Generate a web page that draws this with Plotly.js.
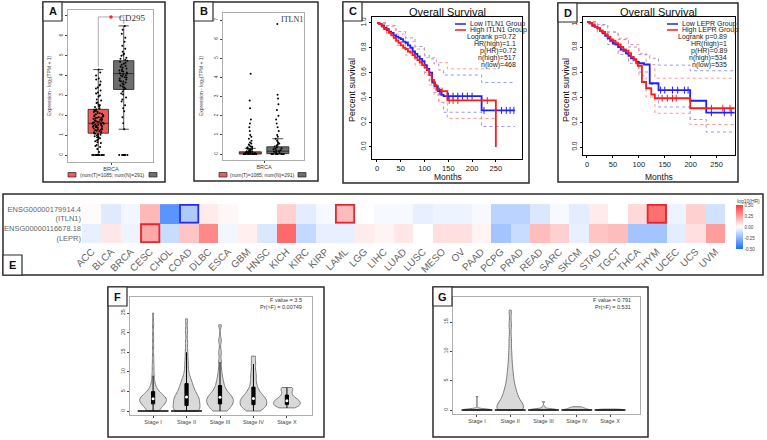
<!DOCTYPE html>
<html><head><meta charset="utf-8">
<script src="https://cdn.plot.ly/plotly-3.0.1.min.js"></script>
<style>html,body{margin:0;padding:0;background:#fff}#chart{width:767px;height:440px}</style>
</head><body><div id="chart"></div>
<script>
// ---------- Panel A / B : expression box plots ----------
const boxA_q1 = [1.1, 3.3], boxA_med = [1.6, 4.1], boxA_q3 = [2.3, 4.75], boxA_lo = [0, 1.3], boxA_hi = [4.3, 6.5];
const ptsA_T = [0,0,0,0,0,0,0,0,0,0,0.15,0.3,0.45,0.6,0.7,0.8,0.9,0.95,1.0,1.05,1.1,1.15,1.2,1.25,1.3,1.35,1.4,1.45,1.5,1.52,1.55,1.6,1.62,1.65,1.7,1.75,1.8,1.85,1.9,1.95,2.0,2.05,2.1,2.15,2.2,2.25,2.3,2.35,2.45,2.55,2.65,2.8,2.95,3.1,3.25,3.4,3.55,3.7,3.85,4.0,4.15,4.3,
  1.28,1.48,1.68,1.88,1.12,1.38,1.58,1.78,0.85,2.02,2.18,0.5,1.02,1.22,1.42,1.63,1.83,2.08,2.28,2.42,2.62,0.75,0.88,1.18,1.33,1.53,1.73,1.93,2.12,0.65,0.4,2.5,2.75,3.0,3.15,3.35,3.5,3.8,0.95,1.07,1.27,1.47,1.67,1.87,1.97,2.23,1.57,1.43];
const ptsA_N = [0,0,0,0,0,0,0,1.3,1.6,1.9,2.2,2.5,2.7,2.9,3.05,3.2,3.3,3.4,3.5,3.6,3.7,3.8,3.9,3.95,4.0,4.05,4.1,4.15,4.2,4.25,4.3,4.4,4.5,4.6,4.7,4.8,4.9,5.0,5.1,5.2,5.35,5.5,5.7,5.9,6.1,6.3,6.5,
  3.55,3.75,4.35,4.55,4.75,3.35,3.65,3.85,4.45,4.65,3.45,4.02,4.12,4.22,3.92,3.72,4.85,5.05,2.8,3.1,2.35];
const sigX = [0, 0, 1, 1], sigY = [4.45, 6.95, 6.95, 6.6];
const boxB_q1 = [0, 0.02], boxB_med = [0.05, 0.15], boxB_q3 = [0.12, 0.38], boxB_lo = [0, 0], boxB_hi = [0.3, 0.8];
const ptsB_T = [0,0,0,0,0,0,0,0,0,0,0,0,0.02,0.03,0.05,0.05,0.06,0.08,0.1,0.1,0.11,0.12,0.14,0.15,0.18,0.2,0.22,0.25,0.28,0.3,0.32,0.35,0.38,0.4,0.45,0.5,0.55,0.6,0.7,0.8,0.9,1.0,1.2,1.4,1.6,1.8,2.4,2.8,4.2];
const ptsB_N = [0,0,0,0,0,0,0,0.05,0.1,0.12,0.15,0.18,0.2,0.25,0.28,0.3,0.35,0.4,0.45,0.5,0.55,0.6,0.7,0.8,0.9,1.0,1.2,1.4,1.6,1.8,2.0,2.3,2.6,2.9,3.1,6.8];
const expTicks = [0,1,2,3,4,5,6,7];

// ---------- Panel C : ITLN1 survival ----------
const cLowX  = [0,5,10,15,20,25,30,35,40,45,50,55,60,65,70,75,80,85,90,95,100,105,110,116,122,128,135,140,218,220,290];
const cLowY  = [1,0.99,0.98,0.96,0.95,0.93,0.92,0.9,0.89,0.88,0.87,0.85,0.84,0.82,0.8,0.77,0.75,0.73,0.71,0.69,0.66,0.63,0.6,0.52,0.49,0.45,0.42,0.41,0.41,0.295,0.295];
const cHighX = [0,5,10,15,20,25,30,35,40,45,50,55,60,65,70,75,80,85,90,95,100,105,110,115,120,125,135,148,250,250];
const cHighY = [1,0.99,0.97,0.95,0.94,0.92,0.9,0.88,0.86,0.84,0.82,0.8,0.79,0.77,0.76,0.74,0.72,0.7,0.68,0.66,0.64,0.62,0.58,0.54,0.5,0.46,0.45,0.375,0.375,0];
const cLowUpX = [0,20,40,60,80,100,110,120,130,140,218,220,290], cLowUpY = [1,0.98,0.93,0.88,0.81,0.74,0.71,0.67,0.62,0.58,0.58,0.52,0.52];
const cLowLoX = [0,20,40,60,80,100,110,120,130,140,218,220,290], cLowLoY = [1,0.92,0.85,0.79,0.7,0.6,0.53,0.44,0.36,0.28,0.28,0.165,0.165];
const cHighUpX = [0,20,40,60,80,100,110,125,148,250], cHighUpY = [1,0.97,0.91,0.85,0.79,0.72,0.72,0.68,0.63,0.63];
const cHighLoX = [0,20,40,60,80,100,110,120,130,148,250], cHighLoY = [1,0.91,0.82,0.74,0.66,0.58,0.5,0.42,0.36,0.23,0.23];
const cLowCens = [132,150,160,170,180,190,200,225,262,272,280,288];
const cHighCens = [137,152,160,170,232];
const cLegend = ['Low ITLN1 Group','High ITLN1 Group'];
const cStats = ['Logrank p=0.72','HR(high)=1.1','p(HR)=0.72','n(high)=517','n(low)=468'];

// ---------- Panel D : LEPR survival ----------
const dLowX  = [0,5,10,15,20,25,30,35,40,45,50,55,60,65,70,75,80,85,90,95,100,110,121,138,199,230,285];
const dLowY  = [1,0.99,0.97,0.96,0.95,0.93,0.91,0.89,0.87,0.85,0.83,0.82,0.8,0.78,0.77,0.75,0.73,0.71,0.7,0.68,0.67,0.66,0.51,0.455,0.37,0.275,0.275];
const dHighX = [0,5,10,15,20,25,30,35,40,45,50,55,60,65,70,75,80,85,90,95,98,106,114,124,131,199,285];
const dHighY = [1,0.99,0.98,0.96,0.95,0.93,0.92,0.9,0.88,0.86,0.85,0.83,0.82,0.8,0.78,0.77,0.75,0.72,0.7,0.67,0.65,0.52,0.47,0.42,0.39,0.31,0.31];
const dLowUpX = [0,20,40,60,80,100,121,138,199,285], dLowUpY = [1,0.98,0.92,0.86,0.8,0.74,0.71,0.655,0.61,0.61];
const dLowLoX = [0,20,40,60,80,100,121,138,199,230,285], dLowLoY = [1,0.92,0.82,0.74,0.67,0.6,0.5,0.32,0.22,0.12,0.12];
const dHighUpX = [0,20,40,60,80,100,114,131,285], dHighUpY = [1,0.97,0.92,0.87,0.82,0.75,0.66,0.55,0.55];
const dHighLoX = [0,20,40,60,80,100,114,131,199,285], dHighLoY = [1,0.92,0.84,0.77,0.69,0.57,0.4,0.27,0.18,0.18];
const dLowCens = [142,150,165,175,188,195,240,265,278];
const dHighCens = [145,155,165,172,240,262,276];
const dLegend = ['Low LEPR Group','High LEPR Group'];
const dStats = ['Logrank p=0.89','HR(high)=1','p(HR)=0.89','n(high)=534','n(low)=535'];
const kmXTicks = [0,50,100,150,200,250];
const kmYTicks = [0,0.2,0.4,0.6,0.8,1.0];

// ---------- Panel E : heatmap log10(HR) ----------
const cancers = ['ACC','BLCA','BRCA','CESC','CHOL','COAD','DLBC','ESCA','GBM','HNSC','KICH','KIRC','KIRP','LAML','LGG','LIHC','LUAD','LUSC','MESO','OV','PAAD','PCPG','PRAD','READ','SARC','SKCM','STAD','TGCT','THCA','THYM','UCEC','UCS','UVM'];
const genes = ['ENSG00000116678.18<br>(LEPR)', 'ENSG00000179914.4<br>(ITLN1)'];
const hrITLN1 = [0.01,-0.07,-0.03,0.18,-0.36,-0.18,0.05,0.02,0,0,0.12,-0.06,-0.02,0.17,0,-0.02,-0.02,-0.05,-0.04,-0.04,-0.02,-0.15,-0.15,-0.08,-0.02,-0.06,0.05,0,0.1,0.36,-0.04,0.12,-0.1];
const hrLEPR  = [-0.05,0.06,-0.04,0.22,-0.12,0.15,0.3,-0.03,0.04,-0.08,0.38,-0.13,-0.05,-0.05,0.05,0.03,0.06,0,0.08,0.08,0.03,-0.2,-0.12,0.17,0.12,-0.05,0.15,0.17,-0.2,-0.2,-0.06,0.08,0.25];
const hlGene = [1, 1, 1, 0];
const hlCancer = ['COAD','LAML','THYM','CESC'];
const hlColor = ['#2a2ae6','#e8262b','#e8262b','#e8262b'];
const cbTicks = [-0.5,-0.25,0,0.25,0.5];

// ---------- Panels F / G : violin by stage ----------
const stages = ['Stage I','Stage II','Stage III','Stage IV','Stage X'];
const fSamples = [
  [0,0,0,0,0,0,0.5,0.8,1.0,1.2,1.4,1.5,1.6,1.7,1.8,1.9,2.0,2.1,2.2,2.3,2.4,2.5,2.5,2.6,2.7,2.8,2.9,3.0,3.0,3.1,3.2,3.3,3.4,3.5,3.6,3.7,3.8,3.9,4.0,4.1,4.2,4.4,4.6,4.8,5.0,5.3,5.6,6.0,6.5,7.0,8,9,10.5,12,14,16.5,19,22,25],
  [0,0,0,0,0,0,0.3,0.6,0.9,1.1,1.3,1.5,1.7,1.9,2.1,2.3,2.5,2.7,2.9,3.1,3.3,3.5,3.7,3.9,4.1,4.4,4.7,5.0,5.3,5.6,6.0,6.4,6.8,7.2,7.7,8.2,9,10,11.5,13,15,17.5,20.5,23.5],
  [0,0,0,0.5,0.9,1.2,1.4,1.6,1.8,2.0,2.2,2.4,2.6,2.8,3.0,3.2,3.4,3.6,3.8,4.0,4.3,4.6,5.0,5.4,5.9,6.5,7.2,8,9,10.5,12.5,15,18,22],
  [0,0.4,0.8,1.1,1.4,1.7,2.0,2.3,2.6,2.9,3.2,3.5,3.9,4.4,5,5.8,7,8.5,10,12,14],
  [0.8,1.0,1.2,1.4,1.6,1.8,2.0,2.2,2.4,2.6,2.8,3.0,3.3,3.7,4.2,4.8,5.4,5.8,6.0]
];
const gSamples = [
  [0,0,0,0,0,0,0.02,0.05,0.05,0.08,0.1,0.1,0.12,0.15,0.2,0.3,2.3],
  [0,0,0,0,0,0.1,0.2,0.4,0.6,0.8,1,1.2,1.4,1.7,2,2.3,2.6,3,3.4,3.8,4.3,4.9,5.6,6.4,7.3,8.5,10,12,14.5,17],
  [0,0,0,0,0,0.02,0.05,0.08,0.1,0.12,0.15,0.2,0.3,0.6,1.4],
  [0,0,0,0,0,0.05,0.1,0.15,0.2,0.25,0.3,0.35,0.4,0.5,0.55],
  [0,0,0,0,0,0.02,0.05,0.08,0.1,0.12,0.15]
];
const fStats = ['F value = 3.5','Pr(>F) = 0.00749'];
const gStats = ['F value = 0.791','Pr(>F) = 0.531'];
const fTicks = [0,5,10,15,20,25], gTicks = [0,5,10,15];

// ================= helpers =================
const W = 767, H = 440;
const px = v => v / W, py = v => 1 - v / H;
const SANS = 'Liberation Sans, Arial, sans-serif';
function stepAt(xs, ys, t) { let v = ys[0]; for (let i = 0; i < xs.length; i++) { if (xs[i] <= t) v = ys[i]; } return v; }
function median(a) { const s = a.slice().sort((p, q) => p - q); const n = s.length; return n % 2 ? s[(n - 1) / 2] : (s[n / 2 - 1] + s[n / 2]) / 2; }

const traces = [], shapes = [], ann = [];

function addBoxPanel(xa, ya, q1, med, q3, lo, hi, ptsT, ptsN) {
  const fills = ['#f0595c', '#6d6d6d'];
  [0, 1].forEach(i => traces.push({type:'box', x:[i], q1:[q1[i]], median:[med[i]], q3:[q3[i]], lowerfence:[lo[i]], upperfence:[hi[i]], width:0.8,
    fillcolor:fills[i], line:{color:'#222', width:0.8}, boxpoints:false, xaxis:xa, yaxis:ya, hoverinfo:'skip', showlegend:false}));
  [[ptsT, 0], [ptsN, 1]].forEach(([pts, pos]) => {
    traces.push({type:'box', y:pts, x0:pos, width:0.8, boxpoints:'all', jitter:0.7, pointpos:0,
      marker:{color:'#000', size:2}, fillcolor:'rgba(0,0,0,0)', line:{color:'rgba(0,0,0,0)', width:0},
      xaxis:xa, yaxis:ya, hoverinfo:'skip', showlegend:false});
  });
}
addBoxPanel('x', 'y', boxA_q1, boxA_med, boxA_q3, boxA_lo, boxA_hi, ptsA_T, ptsA_N);
addBoxPanel('x2', 'y2', boxB_q1, boxB_med, boxB_q3, boxB_lo, boxB_hi, ptsB_T, ptsB_N);
traces.push({type:'scatter', mode:'lines', x:sigX, y:sigY, line:{color:'#999', width:0.8}, xaxis:'x', yaxis:'y', hoverinfo:'skip', showlegend:false});
traces.push({type:'scatter', mode:'markers', x:[(sigX[1] + sigX[2]) / 2], y:[sigY[1]], marker:{symbol:'circle', color:'#ff2020', size:3.5}, xaxis:'x', yaxis:'y', hoverinfo:'skip', showlegend:false});

function addKM(xa, ya, low, high, ciL, ciH, censL, censH) {
  const blue = '#2020ff', red = '#ff1a1a';
  ciL.forEach(c => traces.push({type:'scatter', mode:'lines', x:c[0], y:c[1], line:{color:'#8a8aff', width:0.9, dash:'dot', shape:'hv'}, xaxis:xa, yaxis:ya, hoverinfo:'skip', showlegend:false}));
  ciH.forEach(c => traces.push({type:'scatter', mode:'lines', x:c[0], y:c[1], line:{color:'#ff8a8a', width:0.9, dash:'dot', shape:'hv'}, xaxis:xa, yaxis:ya, hoverinfo:'skip', showlegend:false}));
  traces.push({type:'scatter', mode:'lines', x:low[0], y:low[1], line:{color:blue, width:1.8, shape:'hv'}, xaxis:xa, yaxis:ya, hoverinfo:'skip', showlegend:false});
  traces.push({type:'scatter', mode:'lines', x:high[0], y:high[1], line:{color:red, width:1.8, shape:'hv'}, xaxis:xa, yaxis:ya, hoverinfo:'skip', showlegend:false});
  traces.push({type:'scatter', mode:'markers', x:censL, y:censL.map(t => stepAt(low[0], low[1], t)), marker:{symbol:'line-ns-open', size:5, color:blue, line:{color:blue, width:1}}, xaxis:xa, yaxis:ya, hoverinfo:'skip', showlegend:false});
  traces.push({type:'scatter', mode:'markers', x:censH, y:censH.map(t => stepAt(high[0], high[1], t)), marker:{symbol:'line-ns-open', size:5, color:red, line:{color:red, width:1}}, xaxis:xa, yaxis:ya, hoverinfo:'skip', showlegend:false});
}
addKM('x3', 'y3', [cLowX, cLowY], [cHighX, cHighY], [[cLowUpX, cLowUpY], [cLowLoX, cLowLoY]], [[cHighUpX, cHighUpY], [cHighLoX, cHighLoY]], cLowCens, cHighCens);
addKM('x4', 'y4', [dLowX, dLowY], [dHighX, dHighY], [[dLowUpX, dLowUpY], [dLowLoX, dLowLoY]], [[dHighUpX, dHighUpY], [dHighLoX, dHighLoY]], dLowCens, dHighCens);

// heatmap
traces.push({type:'heatmap', x:cancers, y:genes, z:[hrLEPR, hrITLN1], zmin:-0.5, zmax:0.5,
  colorscale:[[0,'#1a6cff'],[0.5,'#ffffff'],[1,'#ff3a3a']], xaxis:'x5', yaxis:'y5', hoverinfo:'skip',
  colorbar:{x:px(736), xanchor:'left', y:py(205), yanchor:'top', len:44 / H, lenmode:'fraction', thickness:7, outlinewidth:0, ypad:0, xpad:0,
    tickvals:cbTicks, ticktext:cbTicks.map(v => v.toFixed(2)), ticks:'', ticklabelposition:'outside', tickfont:{size:4.5, color:'#444', family:SANS}}});
hlCancer.forEach((c, i) => {
  const k = cancers.indexOf(c);
  shapes.push({type:'rect', xref:'x5', yref:'y5', x0:k - 0.47, x1:k + 0.47, y0:hlGene[i] - 0.46, y1:hlGene[i] + 0.46, line:{color:hlColor[i], width:1.8}});
});
ann.push({xref:'paper', yref:'paper', x:px(735), y:py(201), text:'log10(HR)', showarrow:false, xanchor:'left', yanchor:'middle', font:{size:5, color:'#444', family:SANS}});

// violins
function addViolins(xa, ya, samples, showBox, bws) {
  samples.forEach((s, i) => {
    traces.push({type:'violin', x:s.map(() => stages[i]), y:s, xaxis:xa, yaxis:ya, spanmode:'hard', bandwidth:bws[i],
      scalemode:'width', width:0.8, fillcolor:'#d9d9d9', line:{color:'#7a7a7a', width:1}, points:false,
      box:{visible:showBox, width:0.12, fillcolor:'#000', line:{color:'#000', width:1}}, meanline:{visible:false},
      hoverinfo:'skip', showlegend:false});
  });
  // dark base line where many values sit at zero
  const baseIdx = samples.map((s, i) => s.filter(v => v === 0).length >= 5 ? i : -1).filter(i => i >= 0);
  traces.push({type:'scatter', mode:'markers', x:baseIdx.map(i => stages[i]), y:baseIdx.map(() => 0),
    marker:{symbol:'line-ew-open', size:22, color:'#111', line:{color:'#111', width:1.6}}, xaxis:xa, yaxis:ya, hoverinfo:'skip', showlegend:false});
  if (showBox) traces.push({type:'scatter', mode:'markers', x:stages, y:samples.map(median), marker:{color:'#fff', size:3}, xaxis:xa, yaxis:ya, hoverinfo:'skip', showlegend:false});
}
addViolins('x6', 'y6', fSamples, true, [0.9, 1.0, 0.9, 0.9, 0.6]);
addViolins('x7', 'y7', gSamples, false, [0.12, 0.9, 0.12, 0.1, 0.08]);

// ================= layout =================
const tf = (s, c) => ({size:s, color:c || '#333', family:SANS});
function boxAxes(dom, rng) {
  return {domain:dom, range:rng, showgrid:false, zeroline:false, showline:true, mirror:true, linecolor:'#9a9a9a', linewidth:0.8};
}
function kmAxes(dom, rng, anchor) {
  return {domain:dom, range:rng, anchor:anchor, showgrid:false, zeroline:false, showline:true, mirror:true, linecolor:'#000', linewidth:1, ticks:'outside', ticklen:2, tickcolor:'#000'};
}
const layout = {
  width:W, height:H, margin:{l:0, r:0, t:0, b:0}, paper_bgcolor:'#fff', plot_bgcolor:'rgba(0,0,0,0)', showlegend:false,
  font:{family:SANS},
  xaxis: Object.assign(boxAxes([px(68), px(153)], [-1.19, 2.15]), {anchor:'y', tickvals:[0.5], ticktext:['BRCA'], ticks:'outside', ticklen:2, tickfont:tf(5.5,'#444')}),
  yaxis: Object.assign(boxAxes([py(162), py(10)], [-0.35, 7.3]), {anchor:'x', tickvals:expTicks, tickangle:-90, ticks:'outside', ticklen:2, tickfont:tf(5,'#444')}),
  xaxis2: Object.assign(boxAxes([px(223), px(304)], [-0.99, 1.95]), {anchor:'y2', tickvals:[0.5], ticktext:['BRCA'], ticks:'outside', ticklen:2, tickfont:tf(5.5,'#444')}),
  yaxis2: Object.assign(boxAxes([py(160), py(13)], [-0.31, 7.37]), {anchor:'x2', tickvals:expTicks, tickangle:-90, ticks:'outside', ticklen:2, tickfont:tf(5,'#444')}),
  xaxis3: Object.assign(kmAxes([px(372), px(522)], [-10.5, 305], 'y3'), {tickvals:kmXTicks, tickfont:tf(7.5,'#222')}),
  yaxis3: Object.assign(kmAxes([py(159), py(17)], [-0.097, 1.048], 'x3'), {tickvals:kmYTicks, tickformat:'.1f', tickangle:-90, tickfont:tf(6.5,'#222')}),
  xaxis4: Object.assign(kmAxes([px(583), px(735)], [-7.7, 285.5], 'y4'), {tickvals:kmXTicks, tickfont:tf(7.5,'#222')}),
  yaxis4: Object.assign(kmAxes([py(155), py(17)], [-0.064, 1.04], 'x4'), {tickvals:kmYTicks, tickformat:'.1f', tickangle:-90, tickfont:tf(6.5,'#222')}),
  xaxis5: {domain:[px(82), px(725)], anchor:'y5', type:'category', showgrid:false, zeroline:false, showline:false, tickangle:-45, ticks:'', tickfont:tf(10,'#666')},
  yaxis5: {domain:[py(243), py(204)], anchor:'x5', type:'category', showgrid:false, zeroline:false, showline:false, ticks:'', tickfont:tf(7.5,'#666')},
  xaxis6: Object.assign(boxAxes([px(130), px(312)], [-0.69, 4.75]), {anchor:'y6', type:'category', categoryarray:stages, ticks:'outside', ticklen:2, tickfont:tf(5.5,'#444')}),
  yaxis6: Object.assign(boxAxes([py(415), py(297)], [-1.02, 29.1]), {anchor:'x6', tickvals:fTicks, tickangle:-90, ticks:'outside', ticklen:2, tickfont:tf(5.5,'#444')}),
  xaxis7: Object.assign(boxAxes([px(453), px(640)], [-0.72, 4.9]), {anchor:'y7', type:'category', categoryarray:stages, ticks:'outside', ticklen:2, tickfont:tf(5.5,'#444')}),
  yaxis7: Object.assign(boxAxes([py(414), py(297)], [-0.68, 19.26]), {anchor:'x7', tickvals:gTicks, tickangle:-90, ticks:'outside', ticklen:2, tickfont:tf(5.5,'#444')}),
  violinmode:'overlay', boxmode:'overlay',
  shapes: shapes, annotations: ann
};

// panel borders and label boxes
const panels = [
  ['A', 43, 2, 165, 182], ['B', 194, 2, 318, 181], ['C', 343, 2, 529, 183], ['D', 558, 3, 738, 182],
  ['E', 3, 194, 763, 275], ['F', 108, 287, 324, 437], ['G', 433, 287, 648, 437]
];
panels.forEach(([L, x0, y0, x1, y1]) => {
  shapes.push({type:'rect', xref:'paper', yref:'paper', x0:px(x0), x1:px(x1), y0:py(y1), y1:py(y0), line:{color:'#2b2b2b', width:1.5}, layer:'above'});
  const ly0 = L === 'E' ? y1 - 20 : y0, ly1 = L === 'E' ? y1 : y0 + 19;
  shapes.push({type:'rect', xref:'paper', yref:'paper', x0:px(x0), x1:px(x0 + 19), y0:py(ly1), y1:py(ly0), line:{color:'#2b2b2b', width:1.2}, fillcolor:'#fff', layer:'above'});
  ann.push({xref:'paper', yref:'paper', x:px(x0 + 9.5), y:py((ly0 + ly1) / 2), text:'<b>' + L + '</b>', showarrow:false, xanchor:'center', yanchor:'middle', font:{size:11, color:'#111', family:SANS}});
});

// A/B captions
ann.push({xref:'paper', yref:'paper', x:px(148), y:py(18), text:'CD295', showarrow:false, xanchor:'right', yanchor:'middle', font:{size:9, color:'#333', family:'Liberation Serif, serif'}});
ann.push({xref:'paper', yref:'paper', x:px(305), y:py(19), text:'ITLN1', showarrow:false, xanchor:'right', yanchor:'middle', font:{size:8, color:'#333', family:'Liberation Serif, serif'}});
ann.push({xref:'paper', yref:'paper', x:px(50), y:py(86), text:'Expression - log<sub>2</sub>(TPM + 1)', textangle:-90, showarrow:false, xanchor:'center', yanchor:'middle', font:tf(5,'#444')});
ann.push({xref:'paper', yref:'paper', x:px(202), y:py(86), text:'Expression - log<sub>2</sub>(TPM + 1)', textangle:-90, showarrow:false, xanchor:'center', yanchor:'middle', font:tf(5,'#444')});
[[68, 149], [219, 298]].forEach(([r0, g0]) => {
  shapes.push({type:'rect', xref:'paper', yref:'paper', x0:px(r0), x1:px(r0 + 8), y0:py(177), y1:py(172.5), fillcolor:'#f0595c', line:{color:'#222', width:0.7}});
  shapes.push({type:'rect', xref:'paper', yref:'paper', x0:px(g0), x1:px(g0 + 8), y0:py(177), y1:py(172.5), fillcolor:'#6d6d6d', line:{color:'#222', width:0.7}});
  ann.push({xref:'paper', yref:'paper', x:px((r0 + 8 + g0) / 2), y:py(174.8), text:'(num(T)=1085; num(N)=291)', showarrow:false, xanchor:'center', yanchor:'middle', font:tf(5,'#333')});
});

// KM annotations
function kmText(titleX, legLineX, statsRight, yLabX, legend, stats, monthsX) {
  ann.push({xref:'paper', yref:'paper', x:px(titleX), y:py(12), text:'Overall Survival', showarrow:false, xanchor:'center', yanchor:'middle', font:tf(11,'#111')});
  ann.push({xref:'paper', yref:'paper', x:px(monthsX), y:py(176.5), text:'Months', showarrow:false, xanchor:'center', yanchor:'middle', font:tf(8.5,'#111')});
  ann.push({xref:'paper', yref:'paper', x:px(yLabX), y:py(90), text:'Percent survival', textangle:-90, showarrow:false, xanchor:'center', yanchor:'middle', font:tf(9,'#111')});
  [['#2020ff', 24], ['#ff1a1a', 30]].forEach(([c, yy], i) => {
    shapes.push({type:'line', xref:'paper', yref:'paper', x0:px(legLineX), x1:px(legLineX + 11), y0:py(yy), y1:py(yy), line:{color:c, width:1.5}});
    ann.push({xref:'paper', yref:'paper', x:px(legLineX + 13), y:py(yy), text:legend[i], showarrow:false, xanchor:'left', yanchor:'middle', font:tf(7,'#222')});
  });
  stats.forEach((s, i) => ann.push({xref:'paper', yref:'paper', x:px(statsRight), y:py(37 + i * 7.1), text:s, showarrow:false, xanchor:'right', yanchor:'middle', font:tf(7,'#222')}));
}
kmText(448, 455, 518, 352, cLegend, cStats, 448);
kmText(658, 667, 729, 566, dLegend, dStats, 659);

// F / G stats
fStats.forEach((s, i) => ann.push({xref:'paper', yref:'paper', x:px(304), y:py(300 + i * 7), text:s, showarrow:false, xanchor:'right', yanchor:'middle', font:tf(5.5,'#333')}));
gStats.forEach((s, i) => ann.push({xref:'paper', yref:'paper', x:px(633), y:py(300 + i * 7), text:s, showarrow:false, xanchor:'right', yanchor:'middle', font:tf(5.5,'#333')}));

Plotly.newPlot('chart', traces, layout, {staticPlot:true, displayModeBar:false});
</script></body></html>
